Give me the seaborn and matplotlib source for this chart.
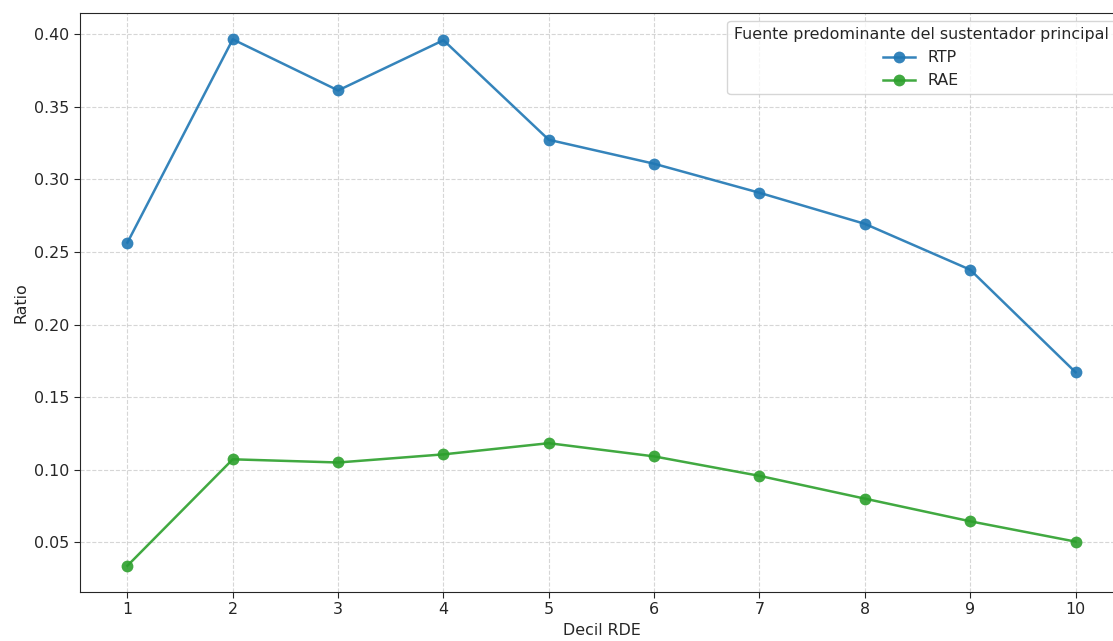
import pandas as pd
import numpy as np
import matplotlib
matplotlib.use('Agg')
import matplotlib.pyplot as plt
import seaborn as sns

deciles = [1, 2, 3, 4, 5, 6, 7, 8, 9, 10]
rtp = [0.2565, 0.3965, 0.3613, 0.3959, 0.3273, 0.3108, 0.2908, 0.2694, 0.2378, 0.1672]
rae = [0.0339, 0.1072, 0.1050, 0.1106, 0.1183, 0.1092, 0.0958, 0.0801, 0.0645, 0.0505]
series = ['RTP', 'RAE']
colors = {'RTP': '#1f77b4', 'RAE': '#2ca02c'}

df = pd.DataFrame({
    'Decil RDE': deciles * 2,
    'Ratio': rtp + rae,
    'Fuente predominante del sustentador principal': ['RTP'] * len(deciles) + ['RAE'] * len(deciles),
})

plt.rcParams['font.size'] = 11.4
plt.rcParams['text.color'] = '#262626'
plt.rcParams['axes.labelcolor'] = '#262626'
plt.rcParams['xtick.color'] = '#262626'
plt.rcParams['ytick.color'] = '#262626'
plt.rcParams['axes.edgecolor'] = '#262626'
plt.rcParams['xtick.major.size'] = 4
plt.rcParams['ytick.major.size'] = 4

fig = plt.figure(figsize=(11.13, 6.41), dpi=100)
ax = fig.add_axes([0.0719, 0.0764, 0.937, 0.9033])

sns.lineplot(data=df, x='Decil RDE', y='Ratio',
             hue='Fuente predominante del sustentador principal',
             hue_order=series, palette=colors, marker='o', markersize=8.5,
             markeredgewidth=0, linewidth=1.8, alpha=0.9, ax=ax)

ax.set_xticks(deciles)
ax.grid(True, linestyle='--', color='#cccccc', alpha=0.8)
ax.legend(title='Fuente predominante del sustentador principal', loc='upper right',
          title_fontsize=11.4, fontsize=11.4)

fig.savefig('out.png', dpi=100)
